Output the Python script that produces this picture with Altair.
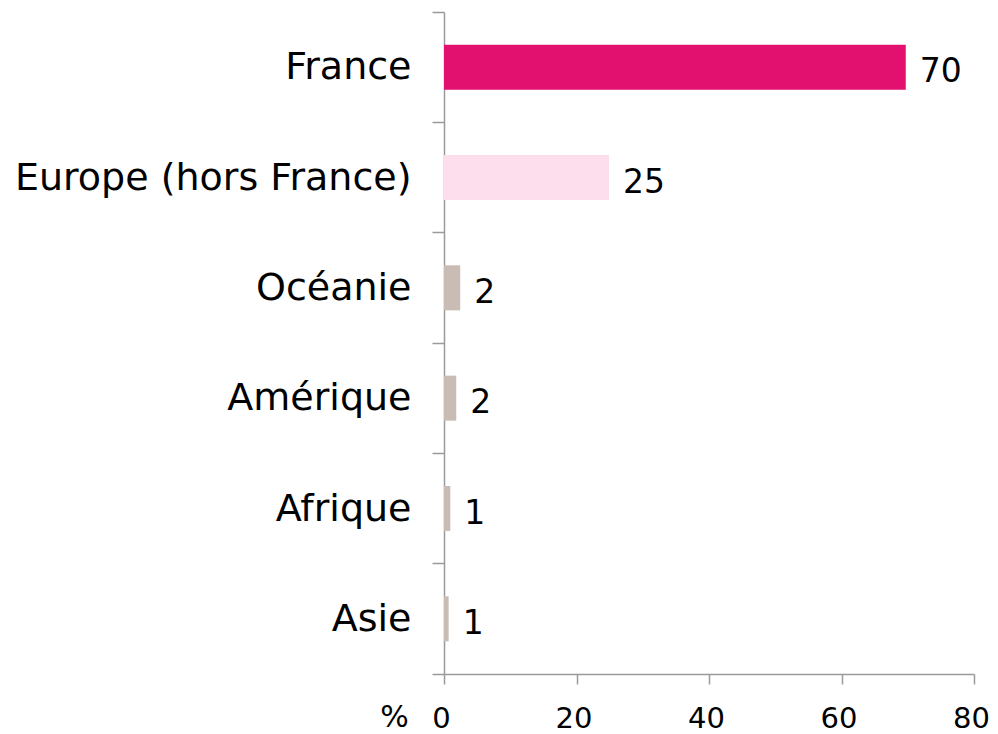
import altair as alt
import pandas as pd

regions = ["France", "Europe (hors France)", "Océanie", "Amérique", "Afrique", "Asie"]
shares = [69.7, 24.9, 2.45, 1.85, 0.95, 0.7]
labels = ["70", "25", "2", "2", "1", "1"]
colors = ["#E2106F", "#FCDEEC", "#C9BCB4", "#C9BCB4", "#C9BCB4", "#C9BCB4"]
x_ticks = [0, 20, 40, 60, 80]

df = pd.DataFrame({"region": regions, "share": shares, "label": labels, "color": colors})

FONT = "DejaVu Sans"
GREY = "#9A9A9A"

y_enc = alt.Y(
    "region:N",
    sort=regions,
    scale=alt.Scale(paddingInner=0, paddingOuter=0),
    axis=alt.Axis(
        title=None,
        bandPosition=1,
        tickExtra=True,
        tickSize=12,
        tickWidth=1.5,
        domainWidth=1.5,
        domainColor=GREY,
        tickColor=GREY,
        labelFont=FONT,
        labelFontSize=38,
        labelColor="black",
        labelPadding=21,
        labelOffset=1,
        labelLimit=600,
    ),
)

x_enc = alt.X(
    "share:Q",
    scale=alt.Scale(domain=[0, 80], nice=False),
    axis=alt.Axis(
        values=x_ticks,
        title="%",
        titleX=-50,
        titleY=52,
        titleAlign="center",
        titleBaseline="alphabetic",
        titleAngle=0,
        titleFont=FONT,
        titleFontSize=30,
        titleFontWeight="normal",
        titleColor="black",
        tickSize=10,
        tickWidth=1.5,
        domainWidth=1.5,
        domainColor=GREY,
        tickColor=GREY,
        labelFont=FONT,
        labelFontSize=29,
        labelColor="black",
        labelPadding=20,
        labelOffset=-3,
        labelFlush=False,
        labelOverlap=False,
        grid=False,
    ),
)

bars = alt.Chart(df).mark_bar(size=45).encode(
    x=x_enc,
    y=y_enc,
    color=alt.Color("color:N", scale=None),
)

texts = alt.Chart(df).mark_text(
    align="left", baseline="middle", dx=14, dy=5, font=FONT, fontSize=33, color="black"
).encode(
    x=alt.X("share:Q"),
    y=alt.Y("region:N", sort=regions),
    text="label:N",
)

chart = (
    alt.layer(bars, texts)
    .properties(
        width=530,
        height=662,
        autosize=alt.AutoSizeParams(type="none"),
        padding={"left": 436, "top": 4, "right": 16, "bottom": 62},
    )
    .configure_view(stroke=None)
)

chart.save("out.html", embed_options={"renderer": "svg", "actions": False})
